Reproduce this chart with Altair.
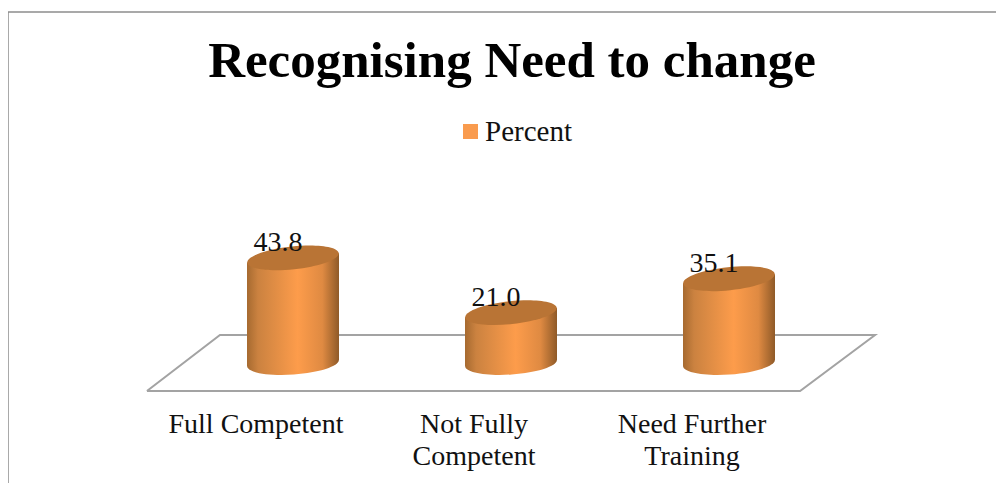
import altair as alt
import pandas as pd

title_text = "Recognising Need to change"
categories = ["Full Competent", "Not Fully Competent", "Need Further Training"]
values = [43.8, 21.0, 35.1]
label_lines = [["Full Competent"], ["Not Fully", "Competent"], ["Need Further", "Training"]]
series_name = "Percent"

floor_x = [-0.67, 2.326, 2.67, -0.335, -0.67]
floor_y = [-11.67, -11.67, 11.67, 11.67, -11.67]

FONT = "Liberation Serif"
W, H = 988, 471
PX_X, PX_Y = 218.0, 2.4
X0, Y0 = 285.0, 351.0
HALF = 46 / PX_X
xs = alt.Scale(domain=[-X0 / PX_X, (W - X0) / PX_X], range=[0, W], nice=False, zero=False)
# y domain: value v sits at Y0 - v*PX_Y
ys = alt.Scale(domain=[(Y0 - H) / PX_Y, Y0 / PX_Y], range=[H, 0], nice=False, zero=False)
X = lambda f: alt.X(f, type="quantitative", scale=xs, axis=None)
Y = lambda f: alt.Y(f, type="quantitative", scale=ys, axis=None)

gradient = alt.Gradient(
    gradient="linear", x1=0, x2=1, y1=0, y2=0,
    stops=[
        alt.GradientStop(offset=0, color="#A66A30"),
        alt.GradientStop(offset=0.12, color="#CB8240"),
        alt.GradientStop(offset=0.55, color="#FD9C4B"),
        alt.GradientStop(offset=0.82, color="#DF8A42"),
        alt.GradientStop(offset=1, color="#8F5A28"),
    ],
)
ELLIPSE = "M-1,0A1,0.25 0 1,1 1,0A1,0.25 0 1,1 -1,0Z"

cyl = pd.DataFrame({"i": range(3), "v": values, "base": [0.0] * 3})
body = pd.DataFrame([
    {"i": i, "x": i + s * HALF, "top": v + s * 1.9, "bot": s * 1.25}
    for i, v in enumerate(values) for s in (-1, 1)
])
floor = pd.DataFrame({"x": floor_x, "y": floor_y, "o": range(len(floor_x))})
text_rows = pd.DataFrame([
    {"x": i - 37 / PX_X, "y": -25.8 - n * 13.35, "t": line}
    for i, lines in enumerate(label_lines) for n, line in enumerate(lines)
])
val_df = pd.DataFrame({"i": range(3), "v": values, "t": [f"{v:.1f}" for v in values]})

floor_l = alt.Chart(floor).mark_line(color="#A3A3A3", strokeWidth=2).encode(
    x=X("x"), y=Y("y"), order="o:Q")
base_l = alt.Chart(cyl).mark_point(shape=ELLIPSE, size=8464, filled=True, fill=gradient,
                                   opacity=1, angle=356, strokeWidth=0).encode(x=X("i"), y=Y("base"))
body_l = alt.Chart(body).mark_area(fill=gradient, opacity=1).encode(
    x=X("x"), y=Y("top"), y2="bot", detail="i:N")
top_l = alt.Chart(cyl).mark_point(shape=ELLIPSE, size=8464, filled=True, fill="#B97435",
                                  opacity=1, angle=354, strokeWidth=0).encode(x=X("i"), y=Y("v"))
val_l = alt.Chart(val_df).mark_text(font=FONT, fontSize=28, color="#111111", dx=-15, dy=-15,
                                    baseline="middle").encode(x=X("i"), y=Y("v"), text="t:N")
cat_l = alt.Chart(text_rows).mark_text(font=FONT, fontSize=28, color="#111111",
                                       baseline="middle").encode(x=X("x"), y=Y("y"), text="t:N")
border_top = alt.Chart(pd.DataFrame({"a": [0]})).mark_rule(color="#8C8C8C", strokeWidth=1.5).encode(
    x=alt.value(0), x2=alt.value(W), y=alt.value(0))
border_left = alt.Chart(pd.DataFrame({"a": [0]})).mark_rule(color="#8C8C8C", strokeWidth=1.5).encode(
    x=alt.value(0), y=alt.value(0), y2=alt.value(H))
legend_l = alt.Chart(pd.DataFrame({"s": [series_name], "x": [0], "y": [0]})).mark_square(size=0).encode(
    x=X("x"), y=Y("y"),
    color=alt.Color("s:N", scale=alt.Scale(domain=[series_name], range=["#F99B4E"]),
                    legend=alt.Legend(title=None, orient="none", legendX=448, legendY=105, padding=0,
                                      symbolType="square", symbolSize=225, symbolStrokeWidth=0,
                                      symbolOpacity=1, labelFont=FONT, labelFontSize=29,
                                      labelColor="#111111", labelOffset=0, labelLimit=200)))

chart = alt.layer(floor_l, base_l, body_l, top_l, val_l, cat_l, border_top, border_left, legend_l).properties(
    width=W, height=H,
    title=alt.TitleParams(title_text, font=FONT, fontSize=51, fontWeight="bold", color="#000000",
                          anchor="middle", dx=10, dy=117, offset=0, baseline="alphabetic"),
    autosize=alt.AutoSizeParams(type="none"),
    padding={"left": 0, "top": 4, "right": 0, "bottom": 0},
).configure_view(stroke=None)

chart.save("out.html", embed_options={"renderer": "svg", "actions": False})
